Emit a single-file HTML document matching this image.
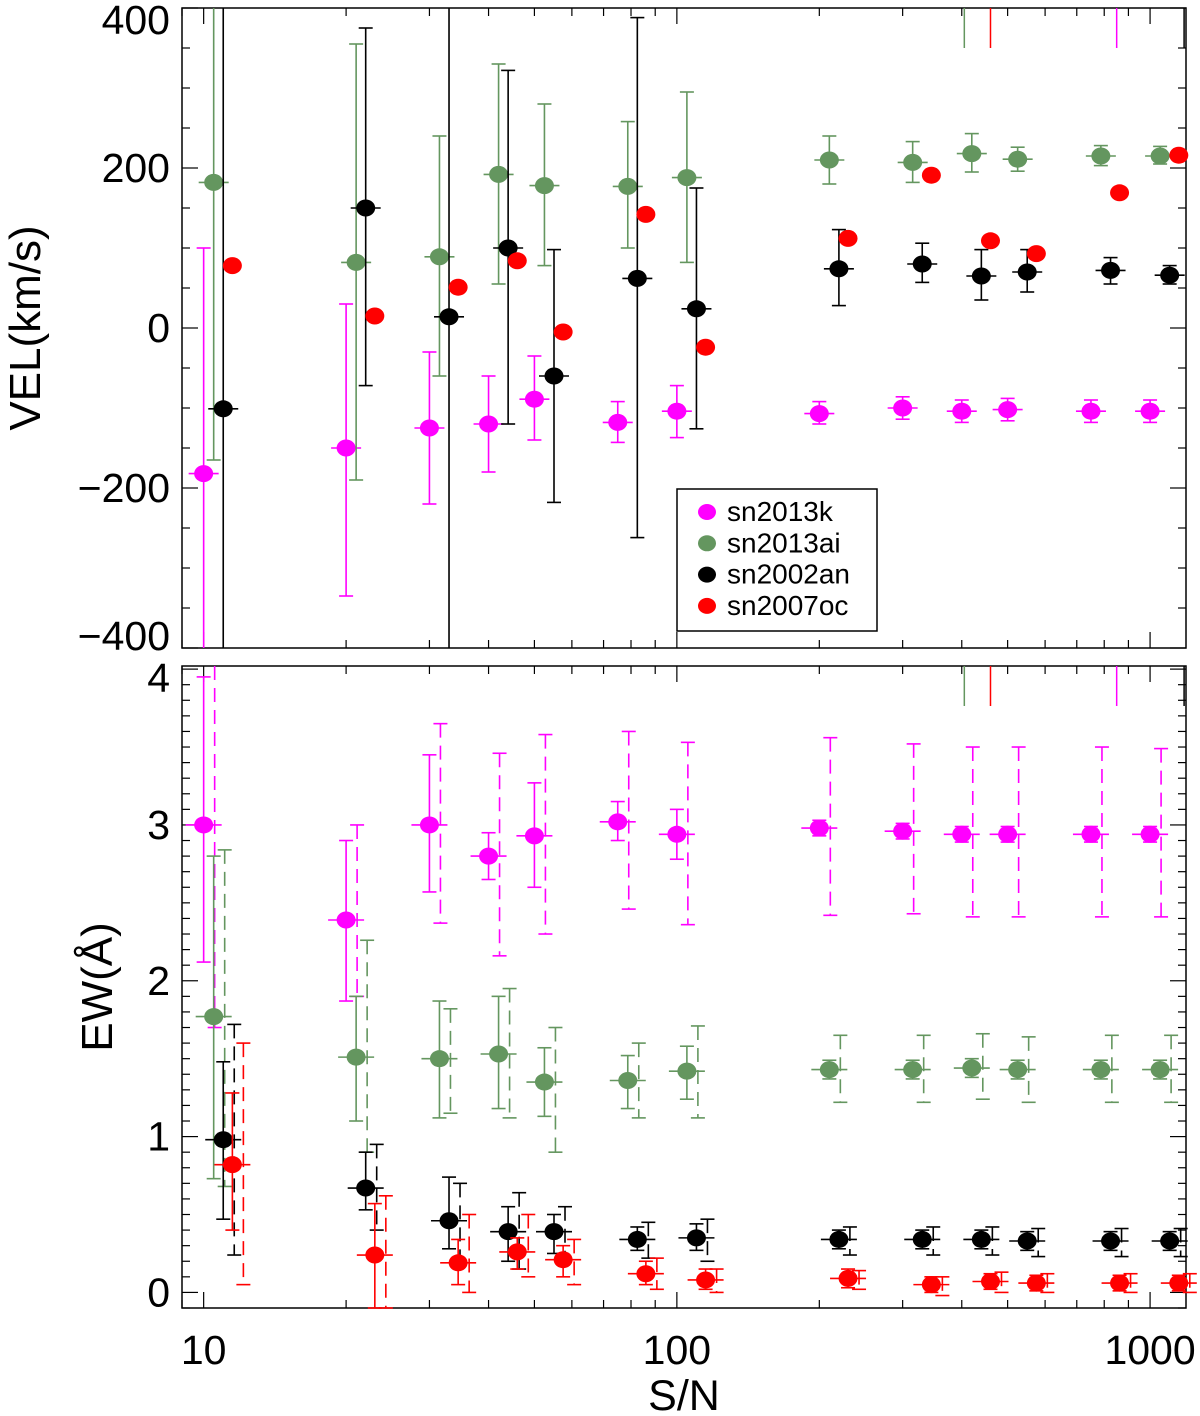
<!DOCTYPE html>
<html><head><meta charset="utf-8"><style>
html,body{margin:0;padding:0;background:#fff;}
svg{display:block;font-family:"Liberation Sans",sans-serif;}
</style></head><body>
<svg id="chart" width="1200" height="1416" viewBox="0 0 1200 1416" xmlns="http://www.w3.org/2000/svg"></svg>
<script>
// ---- data ----
const seriesNames = ["sn2013k","sn2013ai","sn2002an","sn2007oc"];
const seriesColors = ["#ff00ff","#64965f","#000000","#ff0000"];
const snMagenta = [10,20,30,40,50,75,100,200,300,400,500,750,1000];
const snGreen = [10.5,21,31.5,42,52.5,78.75,105,210,315,420,525,787,1050];
const snBlack = [11,22,33,44,55,82.5,110,220,330,440,550,825,1100];
const snRed = [11.5,23,34.5,46,57.5,86,115,230,345,460,575,862,1150];

const velMagenta = [-182,-150,-125,-120,-89,-118,-104,-107,-100,-104,-102,-104,-104];
const velMagentaHi = [100,30,-30,-60,-35,-92,-72,-92,-86,-90,-88,-90,-90];
const velMagentaLo = [-450,-335,-220,-180,-140,-143,-137,-120,-114,-118,-116,-118,-118];
const velGreen = [182,82,89,192,178,177,188,210,207,218,211,215,215];
const velGreenHi = [450,355,240,330,280,258,295,240,233,243,226,228,227];
const velGreenLo = [-165,-190,-60,55,78,100,82,180,182,195,196,203,205];
const velBlack = [-101,150,14,100,-60,62,24,74,80,65,70,72,66];
const velBlackHi = [450,375,450,322,98,388,175,123,106,98,98,88,78];
const velBlackLo = [-450,-72,-450,-120,-218,-262,-126,28,57,35,45,55,55];
const velRed = [78,15,51,84,-5,142,-24,112,191,109,93,169,216];

const ewMagenta = [3.0,2.39,3.0,2.8,2.93,3.02,2.94,2.98,2.96,2.94,2.94,2.94,2.94];
const ewMagentaHi = [3.95,2.9,3.45,2.95,3.27,3.15,3.1,3.03,3.01,2.99,2.99,2.99,2.99];
const ewMagentaLo = [2.12,1.87,2.57,2.65,2.6,2.9,2.78,2.93,2.91,2.89,2.89,2.89,2.89];
const ewMagentaDHi = [4.1,3.0,3.65,3.46,3.58,3.6,3.53,3.56,3.52,3.5,3.5,3.5,3.49];
const ewMagentaDLo = [1.7,1.9,2.37,2.16,2.3,2.46,2.36,2.42,2.43,2.41,2.41,2.41,2.41];
const ewGreen = [1.77,1.51,1.5,1.53,1.35,1.36,1.42,1.43,1.43,1.44,1.43,1.43,1.43];
const ewGreenHi = [2.8,1.9,1.87,1.9,1.57,1.52,1.58,1.49,1.49,1.5,1.49,1.49,1.49];
const ewGreenLo = [0.73,1.1,1.12,1.18,1.13,1.18,1.24,1.37,1.37,1.38,1.37,1.37,1.37];
const ewGreenDHi = [2.84,2.26,1.82,1.95,1.7,1.6,1.71,1.65,1.65,1.66,1.64,1.65,1.65];
const ewGreenDLo = [0.68,0.9,1.15,1.12,0.9,1.12,1.12,1.22,1.22,1.24,1.22,1.22,1.22];
const ewBlack = [0.98,0.67,0.46,0.39,0.39,0.34,0.35,0.34,0.34,0.34,0.33,0.33,0.33];
const ewBlackHi = [1.48,0.9,0.74,0.55,0.5,0.42,0.44,0.4,0.4,0.4,0.39,0.39,0.39];
const ewBlackLo = [0.47,0.53,0.28,0.2,0.25,0.27,0.27,0.28,0.28,0.28,0.27,0.27,0.27];
const ewBlackDHi = [1.72,0.95,0.7,0.64,0.55,0.45,0.47,0.42,0.42,0.42,0.41,0.41,0.41];
const ewBlackDLo = [0.24,0.4,0.2,0.15,0.2,0.22,0.2,0.24,0.24,0.24,0.23,0.23,0.23];
const ewRed = [0.82,0.24,0.19,0.26,0.21,0.12,0.08,0.09,0.05,0.07,0.06,0.06,0.06];
const ewRedHi = [1.28,0.57,0.34,0.35,0.3,0.2,0.15,0.15,0.1,0.12,0.11,0.11,0.11];
const ewRedLo = [0.4,-0.1,0.05,0.15,0.1,0.05,0.02,0.03,0.0,0.02,0.01,0.01,0.01];
const ewRedDHi = [1.6,0.62,0.5,0.5,0.34,0.22,0.15,0.14,0.1,0.13,0.12,0.12,0.12];
const ewRedDLo = [0.05,-0.1,0.0,0.1,0.05,0.02,0.0,0.02,-0.02,0.0,0.0,0.0,0.0];

const strayX = [405,460,850,1180];
const strayColors = ["#64965f","#ff0000","#ff00ff","#000000"];

const xTickVals = [10,100,1000];
const xTickLabels = ["10","100","1000"];
const velTickVals = [-400,-200,0,200,400];
const velTickLabels = ["\u2212400","\u2212200","0","200","400"];
const ewTickVals = [0,1,2,3,4];
const ewTickLabels = ["0","1","2","3","4"];

// ---- layout ----
const L = 182, R = 1186;
const X0 = 9, X1 = 1191;
const topP = {t: 8, b: 648, min: -400, max: 400};
const botP = {t: 666, b: 1308, min: -0.1, max: 4.02};
const NS = "http://www.w3.org/2000/svg";
const svg = document.getElementById("chart");
function xs(v){ return L + (Math.log10(v)-Math.log10(X0))/(Math.log10(X1)-Math.log10(X0))*(R-L); }
function ys(p, v){ return p.b - (v-p.min)/(p.max-p.min)*(p.b-p.t); }
function mk(tag, attrs, parent){ const e=document.createElementNS(NS,tag); for(const k in attrs) e.setAttribute(k,attrs[k]); (parent||svg).appendChild(e); return e; }
function clampY(p, y){ return Math.max(p.t, Math.min(p.b, y)); }

function drawFrame(p, name, tickVals, tickLabels, minorStep, title, titleX){
  const g = mk("g", {});
  
  
  mk("rect",{x:L,y:p.t,width:R-L,height:p.b-p.t,fill:"none",stroke:"#000","stroke-width":1.5},g);
  for(let v=Math.ceil(p.min/minorStep)*minorStep; v<=p.max+1e-9; v+=minorStep){
    const y = ys(p,v);
    const major = tickVals.some(t=>Math.abs(t-v)<1e-6);
    const len = major?16:8;
    mk("line",{x1:L,x2:L+len,y1:y,y2:y,stroke:"#000","stroke-width":1.2},g);
    mk("line",{x1:R,x2:R-len,y1:y,y2:y,stroke:"#000","stroke-width":1.2},g);
  }
  tickVals.forEach((v,i)=>{
    let y = ys(p,v)+14;
    if (y-30 < p.t-8) y = p.t+26;
    if (y > p.b+6) y = p.b+2;
    const t = mk("text",{x:170,y:y,"text-anchor":"end","font-size":41},g);
    
    
    t.textContent = tickLabels[i];
  });
  for(let d=1; d<=1000; d*=10){
    for(let m=1; m<10; m++){
      const v=d*m; if(v<X0||v>X1) continue;
      const x=xs(v); const len=(m===1)?16:8;
      mk("line",{x1:x,x2:x,y1:p.b,y2:p.b-len,stroke:"#000","stroke-width":1.2},g);
      mk("line",{x1:x,x2:x,y1:p.t,y2:p.t+len,stroke:"#000","stroke-width":1.2},g);
    }
  }
  const tt = mk("text",{x:titleX,y:(p.t+p.b)/2,"text-anchor":"middle","font-size":44,transform:`rotate(-90 ${titleX} ${(p.t+p.b)/2})`},g);
  
  
  tt.textContent = title;
}

drawFrame(topP, "velocity-panel", velTickVals, velTickLabels, 50, "VEL(km/s)", 40);
drawFrame(botP, "ew-panel", ewTickVals, ewTickLabels, 0.1, "EW(\u00c5)", 112);

xTickVals.forEach((v,i)=>{
  const t = mk("text",{x:xs(v),y:1364,"text-anchor":"middle","font-size":41});
  
  
  t.textContent = xTickLabels[i];
});
const xt = mk("text",{x:684,y:1410,"text-anchor":"middle","font-size":43});


xt.textContent = "S/N";

strayX.forEach((v,i)=>{
  [topP, botP].forEach(p=>{
    const l = mk("line",{x1:xs(v),x2:xs(v),y1:p.t,y2:p.t+40,stroke:strayColors[i],"stroke-width":1.5});
    
    
  });
});

function errBar(g, p, x, hi, lo, color, dashed){
  const y1 = clampY(p, ys(p,hi)), y2 = clampY(p, ys(p,lo));
  const a = {x1:x,x2:x,y1:y1,y2:y2,stroke:color,"stroke-width":1.6};
  if(dashed) a["stroke-dasharray"]="14,8";
  mk("line",a,g);
  if (ys(p,hi) >= p.t) mk("line",{x1:x-7,x2:x+7,y1:y1,y2:y1,stroke:color,"stroke-width":1.6},g);
  if (ys(p,lo) <= p.b) mk("line",{x1:x-7,x2:x+7,y1:y2,y2:y2,stroke:color,"stroke-width":1.6},g);
}

function drawSeries(p, name, xsArr, vals, his, los, dhis, dlos, color){
  const g = mk("g",{});
  
  
  xsArr.forEach((sv,i)=>{
    const x = xs(sv), y = ys(p, vals[i]);
    if (dhis) errBar(g, p, xs(sv*1.055), dhis[i], dlos[i], color, true);
    if (his) {
      errBar(g, p, x, his[i], los[i], color, false);
      const hw = dhis ? 18 : 15;
      mk("line",{x1:x-hw,x2:x+hw,y1:y,y2:y,stroke:color,"stroke-width":1.6},g);
    }
    const c = mk("ellipse",{cx:x,cy:y,rx:9.5,ry:8.5,fill:color},g);
    
    
  });
}

drawSeries(topP,"vel-sn2013k",snMagenta,velMagenta,velMagentaHi,velMagentaLo,null,null,seriesColors[0]);
drawSeries(topP,"vel-sn2013ai",snGreen,velGreen,velGreenHi,velGreenLo,null,null,seriesColors[1]);
drawSeries(topP,"vel-sn2002an",snBlack,velBlack,velBlackHi,velBlackLo,null,null,seriesColors[2]);
drawSeries(topP,"vel-sn2007oc",snRed,velRed,null,null,null,null,seriesColors[3]);

drawSeries(botP,"ew-sn2013k",snMagenta,ewMagenta,ewMagentaHi,ewMagentaLo,ewMagentaDHi,ewMagentaDLo,seriesColors[0]);
drawSeries(botP,"ew-sn2013ai",snGreen,ewGreen,ewGreenHi,ewGreenLo,ewGreenDHi,ewGreenDLo,seriesColors[1]);
drawSeries(botP,"ew-sn2002an",snBlack,ewBlack,ewBlackHi,ewBlackLo,ewBlackDHi,ewBlackDLo,seriesColors[2]);
drawSeries(botP,"ew-sn2007oc",snRed,ewRed,ewRedHi,ewRedLo,ewRedDHi,ewRedDLo,seriesColors[3]);

const lg = mk("g",{});


mk("rect",{x:677,y:489,width:200,height:142,fill:"#fff",stroke:"#000","stroke-width":1.5},lg);
seriesNames.forEach((n,i)=>{
  const y = 512 + i*31.3;
  const e = mk("g",{},lg);
  
  
  mk("ellipse",{cx:707,cy:y,rx:9,ry:8,fill:seriesColors[i]},e);
  const t = mk("text",{x:727,y:y+9,"font-size":28},e);
  t.textContent = n;
});
</script>
</body></html>
